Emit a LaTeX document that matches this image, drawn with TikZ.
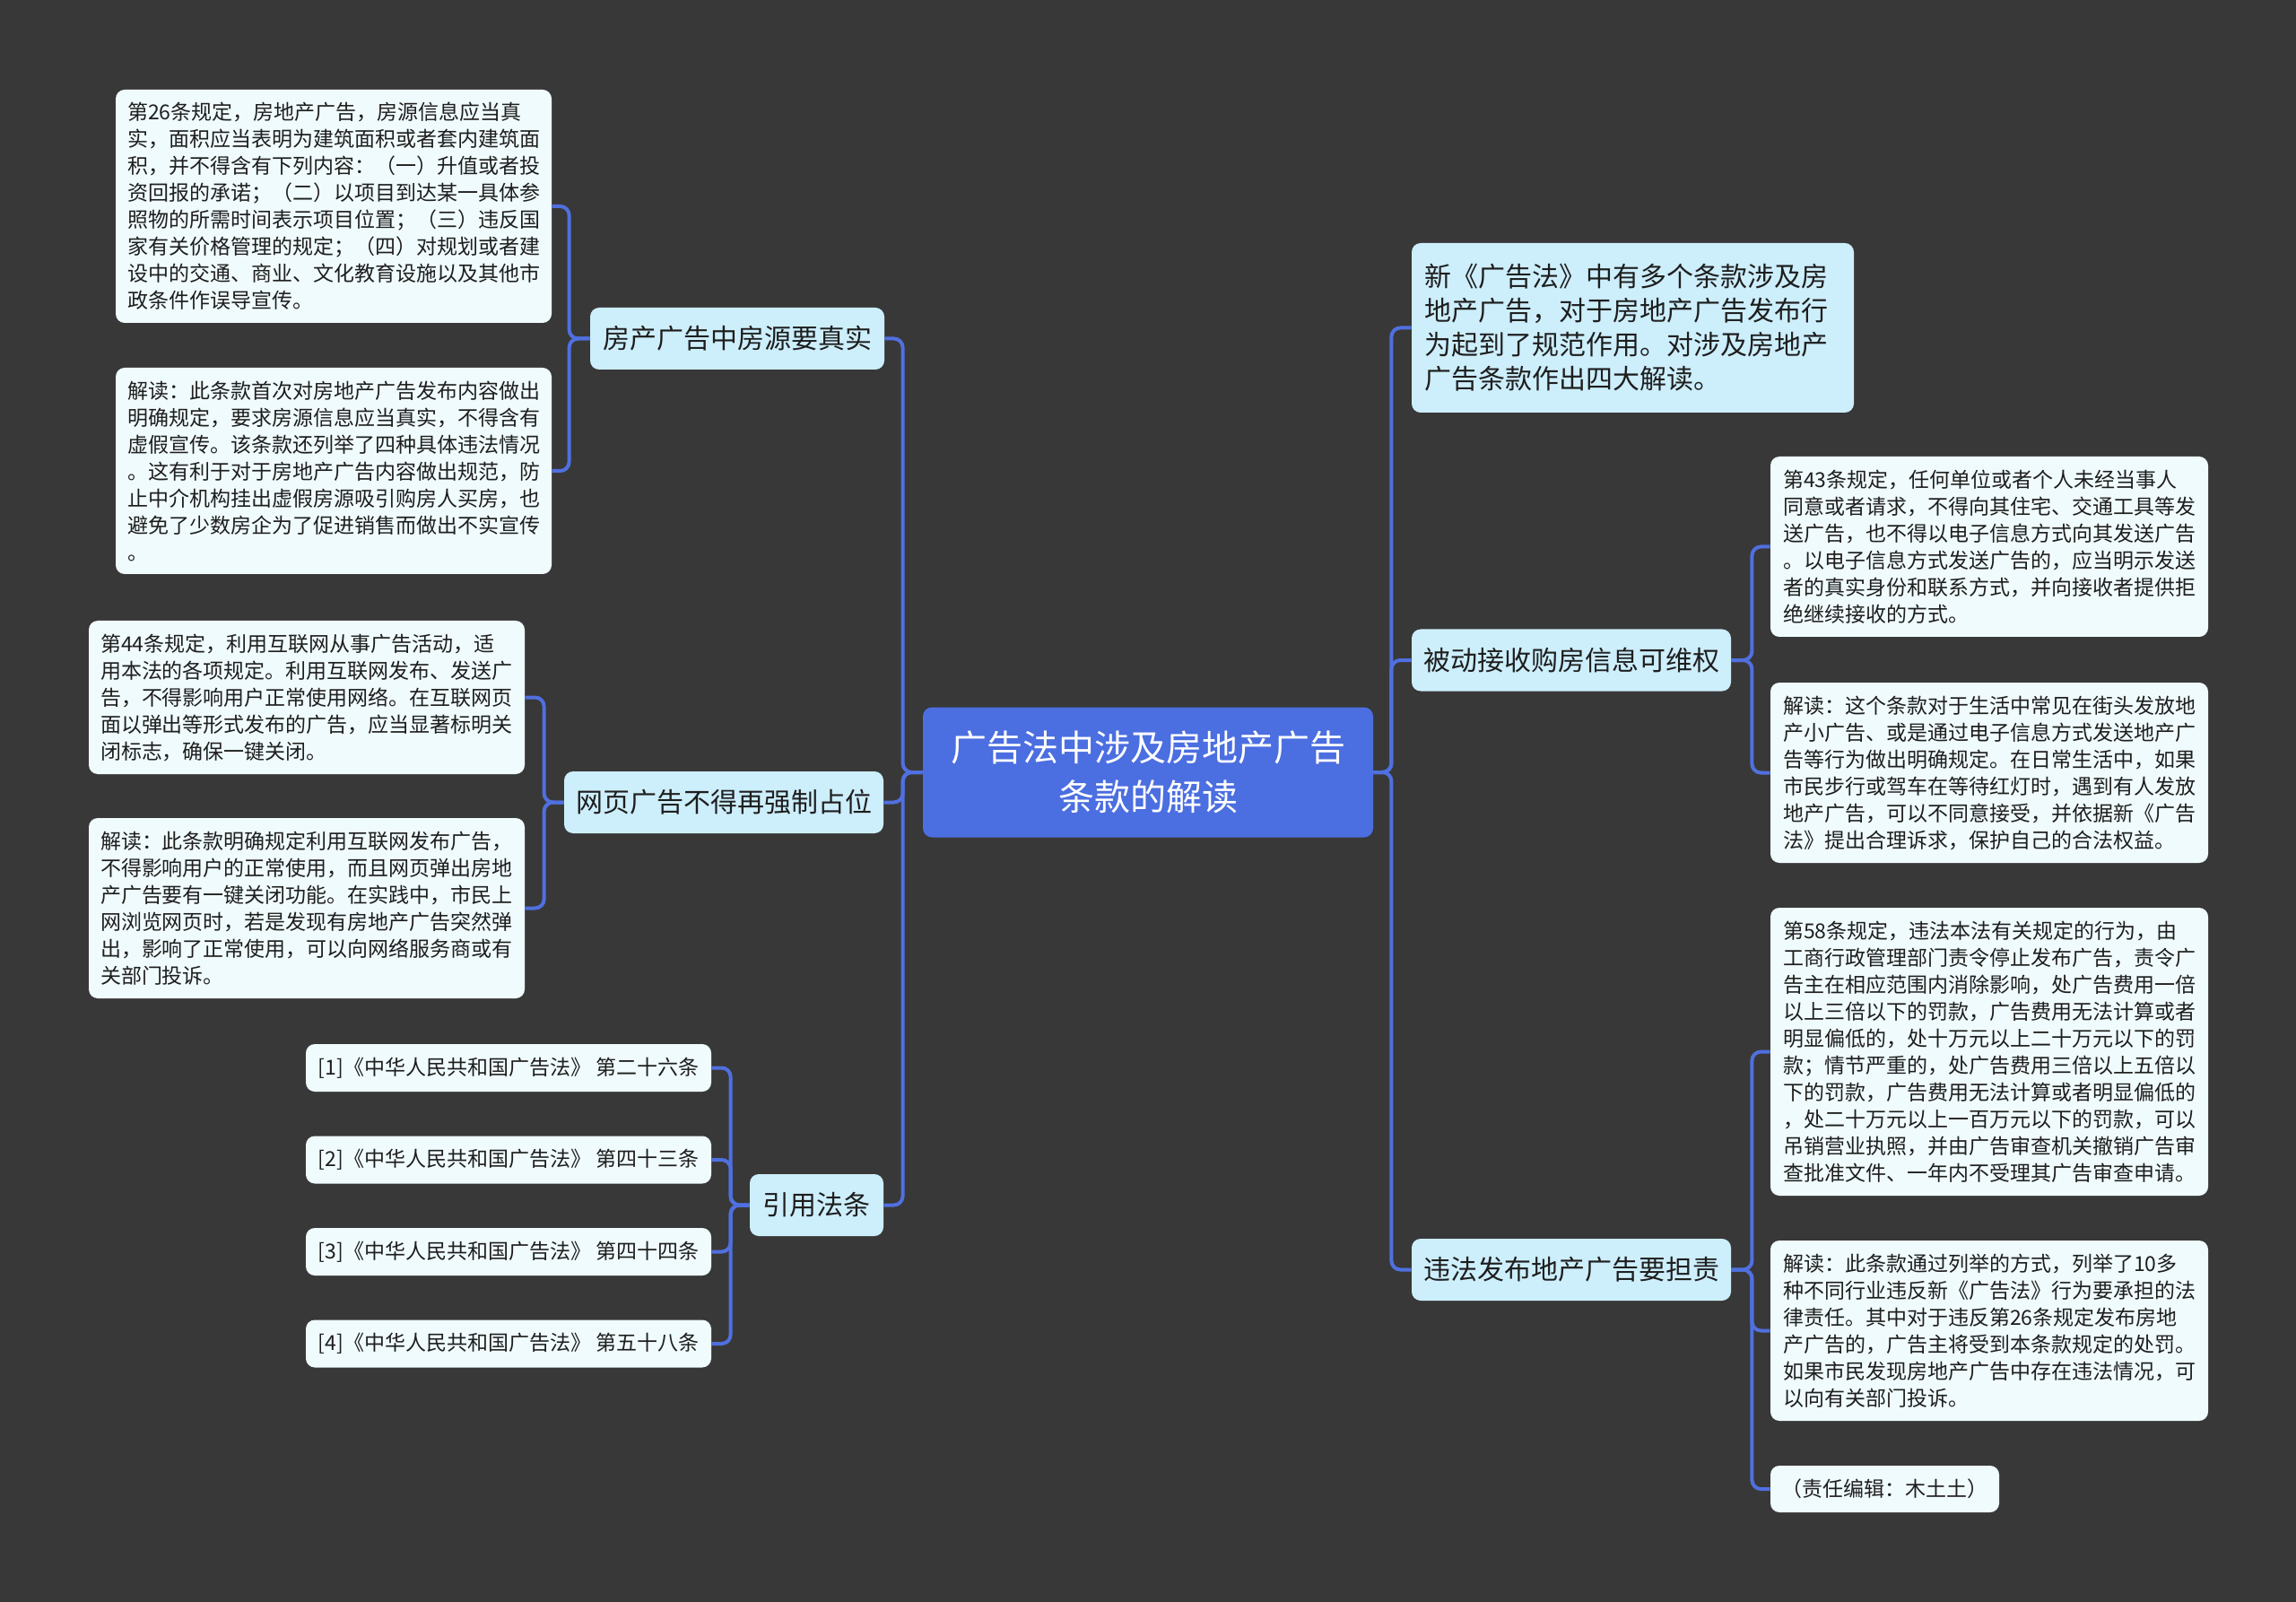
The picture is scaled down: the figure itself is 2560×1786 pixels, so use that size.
\documentclass[tikz,border=0pt]{standalone}
\usepackage{fontspec}
\setmainfont{Noto Sans CJK SC}
\definecolor{bgc}{RGB}{56,56,56}
\definecolor{rootc}{RGB}{75,110,224}
\definecolor{branchc}{RGB}{205,238,251}
\definecolor{leafc}{RGB}{240,251,253}
\definecolor{connc}{RGB}{80,112,224}
\definecolor{txtc}{RGB}{30,30,30}
\begin{document}
\begin{tikzpicture}[x=0.5pt,y=-0.5pt,
  rootbox/.style={fill=rootc, rounded corners=5pt, inner sep=0pt, align=center, text=white, font=\fontsize{20}{27.5}\selectfont},
  branchbox/.style={fill=branchc, rounded corners=5pt, inner sep=0pt, align=center, text=txtc, font=\fontsize{15}{19}\selectfont, minimum height=34.5pt},
  leafbox/.style={fill=leafc, rounded corners=5pt, inner sep=0pt, align=left, text=txtc, font=\fontsize{11.5}{15}\selectfont},
  conn/.style={draw=connc, line width=2pt, rounded corners=5pt}]
\fill[bgc] (0,0) rectangle (2560,1786);
\useasboundingbox (0,0) rectangle (2560,1786);

% root
\node[rootbox, minimum width=251pt, minimum height=72.5pt] (root) at (1280,861) {广告法中涉及房地产广告\\条款的解读};

% left branches
\node[branchbox, minimum width=164pt] (L1) at (822,377.5) {房产广告中房源要真实};
\node[branchbox, minimum width=178pt] (L2) at (807,894.5) {网页广告不得再强制占位};
\node[branchbox, minimum width=74.5pt] (L3) at (910.5,1343.5) {引用法条};

% right branches
\node[branchbox, align=left, inner xsep=7pt, text width=232.5pt, minimum height=94.5pt] (R1) at (1820.5,365.5) {新《广告法》中有多个条款涉及房\\地产广告，对于房地产广告发布行\\为起到了规范作用。对涉及房地产\\广告条款作出四大解读。};
\node[branchbox, minimum width=178pt] (R2) at (1752,736) {被动接收购房信息可维权};
\node[branchbox, minimum width=178pt] (R3) at (1752,1415.5) {违法发布地产广告要担责};

% left leaves
\node[leafbox, minimum width=243pt, minimum height=130pt] (A) at (372,230) {第26条规定，房地产广告，房源信息应当真\\实，面积应当表明为建筑面积或者套内建筑面\\积，并不得含有下列内容：（一）升值或者投\\资回报的承诺；（二）以项目到达某一具体参\\照物的所需时间表示项目位置；（三）违反国\\家有关价格管理的规定；（四）对规划或者建\\设中的交通、商业、文化教育设施以及其他市\\政条件作误导宣传。};
\node[leafbox, minimum width=243pt, minimum height=115pt] (B) at (372,525) {解读：此条款首次对房地产广告发布内容做出\\明确规定，要求房源信息应当真实，不得含有\\虚假宣传。该条款还列举了四种具体违法情况\\。这有利于对于房地产广告内容做出规范，防\\止中介机构挂出虚假房源吸引购房人买房，也\\避免了少数房企为了促进销售而做出不实宣传\\。};
\node[leafbox, minimum width=243pt, minimum height=85.5pt] (C) at (342,777.5) {第44条规定，利用互联网从事广告活动，适\\用本法的各项规定。利用互联网发布、发送广\\告，不得影响用户正常使用网络。在互联网页\\面以弹出等形式发布的广告，应当显著标明关\\闭标志，确保一键关闭。};
\node[leafbox, minimum width=243pt, minimum height=100.5pt] (D) at (342,1012.5) {解读：此条款明确规定利用互联网发布广告，\\不得影响用户的正常使用，而且网页弹出房地\\产广告要有一键关闭功能。在实践中，市民上\\网浏览网页时，若是发现有房地产广告突然弹\\出，影响了正常使用，可以向网络服务商或有\\关部门投诉。};

% references
\node[leafbox, minimum width=226pt, minimum height=26.5pt] (F1) at (567,1190.5) {[1]《中华人民共和国广告法》 第二十六条};
\node[leafbox, minimum width=226pt, minimum height=26.5pt] (F2) at (567,1293) {[2]《中华人民共和国广告法》 第四十三条};
\node[leafbox, minimum width=226pt, minimum height=26.5pt] (F3) at (567,1395.5) {[3]《中华人民共和国广告法》 第四十四条};
\node[leafbox, minimum width=226pt, minimum height=26.5pt] (F4) at (567,1498) {[4]《中华人民共和国广告法》 第五十八条};

% right leaves
\node[leafbox, minimum width=244pt, minimum height=100.5pt] (E) at (2218,609.5) {第43条规定，任何单位或者个人未经当事人\\同意或者请求，不得向其住宅、交通工具等发\\送广告，也不得以电子信息方式向其发送广告\\。以电子信息方式发送广告的，应当明示发送\\者的真实身份和联系方式，并向接收者提供拒\\绝继续接收的方式。};
\node[leafbox, minimum width=244pt, minimum height=100.5pt] (F) at (2218,861.5) {解读：这个条款对于生活中常见在街头发放地\\产小广告、或是通过电子信息方式发送地产广\\告等行为做出明确规定。在日常生活中，如果\\市民步行或驾车在等待红灯时，遇到有人发放\\地产广告，可以不同意接受，并依据新《广告\\法》提出合理诉求，保护自己的合法权益。};
\node[leafbox, minimum width=244pt, minimum height=160.5pt] (G) at (2218,1172.5) {第58条规定，违法本法有关规定的行为，由\\工商行政管理部门责令停止发布广告，责令广\\告主在相应范围内消除影响，处广告费用一倍\\以上三倍以下的罚款，广告费用无法计算或者\\明显偏低的，处十万元以上二十万元以下的罚\\款；情节严重的，处广告费用三倍以上五倍以\\下的罚款，广告费用无法计算或者明显偏低的\\，处二十万元以上一百万元以下的罚款，可以\\吊销营业执照，并由广告审查机关撤销广告审\\查批准文件、一年内不受理其广告审查申请。};
\node[leafbox, minimum width=244pt, minimum height=100.5pt] (H) at (2218,1483.5) {解读：此条款通过列举的方式，列举了10多\\种不同行业违反新《广告法》行为要承担的法\\律责任。其中对于违反第26条规定发布房地\\产广告的，广告主将受到本条款规定的处罚。\\如果市民发现房地产广告中存在违法情况，可\\以向有关部门投诉。};
\node[leafbox, minimum width=127.5pt, minimum height=26pt] (I) at (2101.5,1660) {（责任编辑：木土土）};

% connectors: root to branches
\foreach \c in {L1,L2,L3}
  \draw[conn] (root.west) -- ([xshift=-11pt]root.west) |- (\c.east);
\foreach \c in {R1,R2,R3}
  \draw[conn] (root.east) -- ([xshift=10pt]root.east) |- (\c.west);
% branches to leaves
\foreach \c in {A,B}
  \draw[conn] (L1.west) -- ([xshift=-11.5pt]L1.west) |- (\c.east);
\foreach \c in {C,D}
  \draw[conn] (L2.west) -- ([xshift=-11pt]L2.west) |- (\c.east);
\foreach \c in {F1,F2,F3,F4}
  \draw[conn] (L3.west) -- ([xshift=-10.5pt]L3.west) |- (\c.east);
\foreach \c in {E,F}
  \draw[conn] (R2.east) -- ([xshift=11.5pt]R2.east) |- (\c.west);
\foreach \c in {G,H,I}
  \draw[conn] (R3.east) -- ([xshift=11.5pt]R3.east) |- (\c.west);
\end{tikzpicture}
\end{document}
